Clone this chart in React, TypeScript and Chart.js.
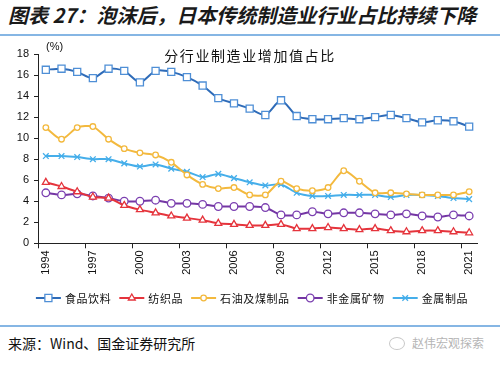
import React, { useEffect, useRef } from 'react';
import { Chart, registerables } from 'chart.js';

Chart.register(...registerables);

const years = ['1994', '1995', '1996', '1997', '1998', '1999', '2000', '2001', '2002', '2003', '2004', '2005', '2006', '2007', '2008', '2009', '2010', '2011', '2012', '2013', '2014', '2015', '2016', '2017', '2018', '2019', '2020', '2021'];
const labeledYears = ['1994', '1997', '2000', '2003', '2006', '2009', '2012', '2015', '2018', '2021'];

const food = [16.5, 16.6, 16.3, 15.7, 16.6, 16.4, 15.3, 16.4, 16.3, 15.8, 15.0, 13.8, 13.3, 12.8, 12.2, 13.6, 12.1, 11.8, 11.8, 11.9, 11.8, 12.0, 12.2, 11.9, 11.5, 11.7, 11.6, 11.1];
const textile = [5.8, 5.4, 4.9, 4.4, 4.3, 3.6, 3.2, 2.9, 2.6, 2.4, 2.2, 1.9, 1.8, 1.7, 1.7, 1.8, 1.4, 1.4, 1.5, 1.4, 1.3, 1.4, 1.2, 1.1, 1.2, 1.2, 1.1, 1.0];
const petroleum = [11.0, 9.9, 11.0, 11.1, 9.9, 9.0, 8.6, 8.4, 7.7, 6.5, 5.6, 5.2, 5.3, 4.6, 4.6, 5.9, 5.2, 5.0, 5.3, 6.9, 5.9, 4.8, 4.8, 4.7, 4.6, 4.6, 4.6, 4.9];
const nonMetal = [4.8, 4.6, 4.7, 4.5, 4.3, 4.0, 4.0, 4.1, 3.8, 3.8, 3.7, 3.5, 3.5, 3.5, 3.4, 2.7, 2.7, 3.0, 2.8, 2.9, 2.9, 2.8, 2.7, 2.8, 2.6, 2.5, 2.7, 2.6];
const metal = [8.3, 8.3, 8.2, 8.0, 8.0, 7.6, 7.3, 7.5, 7.1, 6.8, 6.3, 6.6, 6.2, 5.8, 5.5, 5.6, 4.8, 4.5, 4.5, 4.6, 4.6, 4.6, 4.4, 4.6, 4.6, 4.5, 4.3, 4.2];

const seriesNames = ['食品饮料', '纺织品', '石油及煤制品', '非金属矿物', '金属制品'];
const yMin = 0;
const yMax = 18;
const yStep = 2;

const titleText = '图表 27：泡沫后，日本传统制造业行业占比持续下降';
const chartTitle = '分行业制造业增加值占比';
const unitText = '(%)';
const sourceText = '来源：Wind、国金证券研究所';
const watermark = '赵伟宏观探索';

function drawMarker(ctx: CanvasRenderingContext2D, style: string, x: number, y: number, r: number, stroke: string, fill: string, lw: number) {
  ctx.save();
  ctx.strokeStyle = stroke;
  ctx.fillStyle = fill;
  ctx.lineWidth = lw;
  ctx.beginPath();
  if (style === 'rect') {
    const s = Math.SQRT1_2 * r;
    ctx.rect(x - s, y - s, 2 * s, 2 * s);
    ctx.fill();
    ctx.stroke();
  } else if (style === 'triangle') {
    ctx.moveTo(x, y - r);
    ctx.lineTo(x + r * 0.866, y + r * 0.5);
    ctx.lineTo(x - r * 0.866, y + r * 0.5);
    ctx.closePath();
    ctx.fill();
    ctx.stroke();
  } else if (style === 'circle') {
    ctx.arc(x, y, r, 0, Math.PI * 2);
    ctx.fill();
    ctx.stroke();
  } else if (style === 'crossRot') {
    const s = Math.SQRT1_2 * r;
    ctx.moveTo(x - s, y - s);
    ctx.lineTo(x + s, y + s);
    ctx.moveTo(x + s, y - s);
    ctx.lineTo(x - s, y + s);
    ctx.stroke();
  }
  ctx.restore();
}

const legendPlugin = {
  id: 'customLegend',
  afterDraw(chart: any) {
    const ctx: CanvasRenderingContext2D = chart.ctx;
    ctx.save();
    ctx.font = '11px "Noto Sans CJK SC"';
    (ctx as any).letterSpacing = '0.6px';
    ctx.textBaseline = 'middle';
    ctx.textAlign = 'left';
    const lineLen = 25;
    const textGap = 4;
    const itemGap = 8;
    const items = chart.data.datasets.map((ds: any) => ({ ds, tw: ctx.measureText(ds.label).width }));
    const total = items.reduce((a: number, it: any) => a + lineLen + textGap + it.tw, 0) + itemGap * (items.length - 1);
    let x = (chart.width - total) / 2 + 2;
    const y = chart.height - 17;
    items.forEach((it: any) => {
      const ds = it.ds;
      ctx.strokeStyle = ds.borderColor;
      ctx.lineWidth = 2;
      ctx.beginPath();
      ctx.moveTo(x, y);
      ctx.lineTo(x + lineLen, y);
      ctx.stroke();
      drawMarker(ctx, ds.pointStyle, x + lineLen / 2, y, ds.pointRadius, ds.pointBorderColor, ds.pointBackgroundColor, ds.pointBorderWidth);
      ctx.fillStyle = '#111';
      ctx.fillText(ds.label, x + lineLen + textGap, y + 0.5);
      x += lineLen + textGap + it.tw + itemGap;
    });
    ctx.restore();
  },
};

function ChartCanvas() {
  const ref = useRef<HTMLCanvasElement | null>(null);
  useEffect(() => {
    if (!ref.current) return;
    const mk = (label: string, data: number[], line: string, pt: string, style: string, r: number) => ({
      label,
      data,
      borderColor: line,
      borderWidth: 2,
      pointStyle: style,
      pointRadius: r,
      pointBorderColor: pt,
      pointBackgroundColor: '#ffffff',
      pointBorderWidth: 1.3,
      tension: 0.25,
      fill: false,
    });
    const chart = new Chart(ref.current, {
      type: 'line',
      data: {
        labels: years,
        datasets: [
          mk(seriesNames[0], food, '#2E6BB8', '#4F8FD6', 'rect', 5),
          mk(seriesNames[1], textile, '#E5343C', '#E5343C', 'triangle', 4),
          mk(seriesNames[2], petroleum, '#F3B93E', '#F3B93E', 'circle', 2.8),
          mk(seriesNames[3], nonMetal, '#7436A4', '#7B3FB0', 'circle', 3.8),
          mk(seriesNames[4], metal, '#45AEEA', '#45AEEA', 'crossRot', 4),
        ],
      },
      options: {
        responsive: false,
        animation: false,
        events: [],
        layout: { padding: { top: 14, right: 23, bottom: 21.7, left: 0 } },
        plugins: {
          legend: { display: false },
          title: { display: false },
          tooltip: { enabled: false },
        },
        scales: {
          x: {
            type: 'category',
            offset: true,
            afterFit: (s: any) => { s.height = 50; },
            grid: {
              offset: true,
              drawOnChartArea: false,
              drawTicks: true,
              tickLength: 5,
              color: (c: any) => (c.index % 3 === 0 ? '#222' : 'rgba(0,0,0,0)'),
            },
            border: { display: true, color: '#222', width: 1 },
            ticks: {
              autoSkip: false,
              maxRotation: 90,
              minRotation: 90,
              padding: 2,
              color: '#111',
              font: { family: '"Liberation Sans", Arial, sans-serif', size: 11 },
              callback: function (this: any, v: any, i: number) {
                const lab = years[i];
                return labeledYears.includes(lab) ? lab : '';
              },
            },
          },
          y: {
            min: yMin,
            max: yMax,
            afterFit: (s: any) => { s.width = 38; },
            grid: { drawOnChartArea: false, drawTicks: true, tickLength: 4, color: '#222' },
            border: { display: true, color: '#222', width: 1 },
            ticks: {
              stepSize: yStep,
              padding: 5,
              color: '#111',
              font: { family: '"Liberation Sans", Arial, sans-serif', size: 11 },
            },
          },
        },
      },
      plugins: [legendPlugin],
    } as any);
    return () => chart.destroy();
  }, []);
  return <canvas ref={ref} width={500} height={275} style={{ position: 'absolute', left: 0, top: 40, width: 500, height: 275 }} />;
}

export default function App() {
  return (
    <div style={{ position: 'absolute', left: 0, top: 0, width: 500, height: 368, background: '#fff', overflow: 'hidden', fontFamily: '"Noto Sans CJK SC", sans-serif' }}>
      <div style={{ position: 'absolute', left: 8, top: 1, fontSize: 20, fontWeight: 700, fontStyle: 'italic', color: '#1a1a1a', whiteSpace: 'nowrap', lineHeight: '28px' }}>{titleText}</div>
      <div style={{ position: 'absolute', left: 0, top: 34, width: 500, height: 2, background: '#86B6E4' }} />
      <ChartCanvas />
      <div style={{ position: 'absolute', left: 46, top: 40, fontSize: 11, fontFamily: '"Liberation Sans", Arial, sans-serif', color: '#111' }}>{unitText}</div>
      <div style={{ position: 'absolute', left: 0, width: 500, top: 45, textAlign: 'center', fontSize: 14, letterSpacing: 1.6, color: '#111', lineHeight: '20px' }}>{chartTitle}</div>
      <div style={{ position: 'absolute', left: 0, top: 325, width: 500, height: 1.5, background: '#86B6E4' }} />
      <div style={{ position: 'absolute', left: 8, top: 333, fontSize: 14, color: '#111', lineHeight: '20px', whiteSpace: 'nowrap' }}>{sourceText}</div>
      <div style={{ position: 'absolute', left: 389, top: 337, width: 14, height: 11, borderRadius: '50%', border: '1px solid #c8c8c8' }} />
      <div style={{ position: 'absolute', left: 412, top: 334, fontSize: 12, color: '#b5b5b5', lineHeight: '18px', whiteSpace: 'nowrap' }}>{watermark}</div>
    </div>
  );
}
